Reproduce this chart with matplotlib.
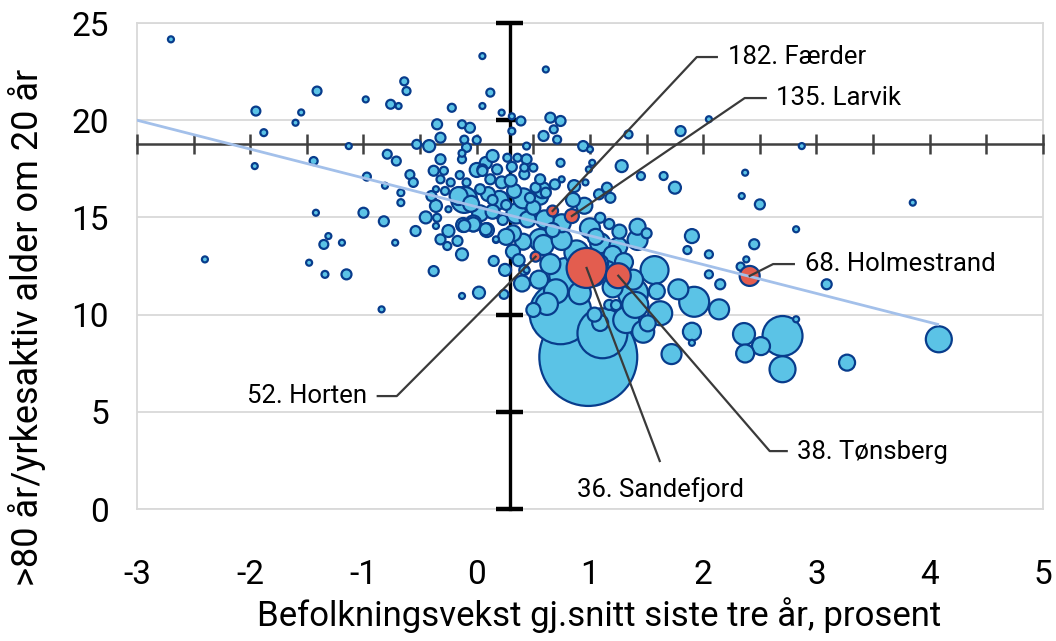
import numpy as np
import matplotlib
matplotlib.use("Agg")
import matplotlib.pyplot as plt

plt.rcParams['font.family'] = ['Roboto', 'DejaVu Sans']

# Kommuner: befolkningsvekst (x), >80 år / yrkesaktiv alder om 20 år (y), boblestørrelse
vekst = [
    -2.70, 0.05, -1.95, -1.41, -1.55, -1.60, -1.88, -1.96, -0.98, -0.64,
    -0.62, -0.76, -0.69, -1.13, -1.44, -0.97, -0.81, -0.79, -0.71, -0.59,
    -0.56, -0.67, -0.67, -0.53, -0.42, -0.35, -0.32, -0.22, -0.13, -0.06,
    -0.11, -0.09, -0.13, -0.32, -0.38, -0.29, -0.32, -0.23, -0.36, -0.28,
    -0.16, -0.09, 0.03, -0.36, -0.25, 0.05, 0.14, 0.08, 0.27, 0.31,
    0.22, 0.33, 0.12, 0.12, 0.05, 0.22, 0.31, 0.39, 0.31, 0.44,
    0.36, -2.40, -1.42, -1.48, -1.31, -1.35, -1.19, -1.34, -1.15, -1.00,
    -0.82, -0.72, -0.54, -0.84, -0.38, -0.32, -0.17, -0.13, -0.26, -0.35,
    -0.36, 0.02, -0.13, 0.15, -0.03, 0.08, -0.11, 0.24, 0.17, 0.61,
    0.65, 0.68, 0.59, 0.71, 0.74, 0.44, 0.42, 0.56, 0.69, 0.61,
    0.94, 1.02, 1.28, 1.34, 1.80, 1.45, 1.65, 1.75, 0.74, 1.00,
    2.05, 0.99, 1.15, 1.18, 1.08, 0.96, 0.86, 0.75, 1.09, 1.17,
    1.26, 1.42, 1.50, 1.00, -0.03, -0.12, 0.09, -0.11, 0.03, 0.14,
    0.26, 0.17, 0.32, 0.32, 0.56, 0.44, 0.41, 0.56, 0.67, 0.23,
    0.05, 0.18, 0.42, 0.50, 0.52, 0.47, -0.15, -0.13, 0.00, 0.00,
    0.14, 0.35, 0.26, 0.41, 0.59, 0.75, 1.09, 1.20, 0.79, 0.91,
    1.09, 1.32, 1.51, 1.40, 0.50, 0.42, 1.23, 1.17, 1.04, 0.62,
    0.74, 1.11, 0.985, 1.57, 1.38, 1.78, 1.92, 1.62, 1.47, 2.14,
    1.90, 1.72, 1.90, 2.36, 2.37, 2.51, 1.59, 1.90, 1.86, 2.05,
    2.05, 2.15, 2.45, 2.38, 2.33, 1.42, 2.70, 2.70, 2.82, 2.50,
    2.82, 2.87, 2.37, 2.34, 3.85, 3.09, 4.08, 3.27, 1.38, 1.09,
    0.45, 0.60, 0.75, 0.50, 0.85, 0.30, 0.65, 0.40, 0.55, 0.88,
    1.25, 1.30, 1.05, -0.05, 0.20, 0.10, -0.25, -0.45, -0.40, 0.37,
    0.70, 1.20, 1.05, 0.25, 0.95, 0.58, 1.15,
]
andel = [
    24.16, 23.30, 20.47, 21.50, 20.40, 19.87, 19.36, 17.64, 21.07, 22.00,
    21.50, 20.82, 20.73, 18.67, 17.90, 17.10, 16.63, 18.25, 17.90, 17.20,
    16.80, 16.27, 15.76, 18.76, 18.67, 19.79, 19.10, 20.64, 19.79, 19.61,
    19.00, 18.60, 17.99, 17.99, 17.40, 17.40, 16.96, 16.80, 16.45, 16.36,
    16.10, 16.80, 16.45, 15.59, 15.42, 17.39, 18.16, 17.80, 18.07, 17.60,
    16.80, 16.36, 16.96, 21.42, 20.73, 20.39, 20.20, 19.96, 19.44, 18.67,
    18.07, 12.84, 15.24, 12.67, 14.04, 13.61, 13.70, 12.07, 12.07, 15.24,
    14.80, 13.70, 14.30, 10.27, 12.24, 13.87, 13.79, 13.10, 13.53, 14.98,
    14.56, 11.13, 10.96, 12.76, 14.64, 14.39, 14.56, 11.04, 13.87, 22.61,
    20.13, 19.53, 19.19, 19.00, 19.96, 17.99, 17.56, 16.96, 16.70, 16.27,
    18.67, 17.81, 17.64, 19.27, 19.44, 17.13, 17.13, 16.53, 17.81, 18.50,
    20.05, 17.47, 16.53, 16.01, 16.19, 16.80, 16.61, 16.96, 14.98, 14.66,
    14.27, 14.52, 14.18, 14.44, 14.69, 14.61, 14.35, 15.90, 15.21, 15.29,
    15.64, 13.84, 14.18, 13.24, 13.84, 12.29, 15.98, 16.07, 14.35, 14.87,
    17.47, 17.47, 17.22, 17.56, 16.53, 16.01, 17.18, 18.30, 17.44, 18.98,
    15.90, 15.20, 14.00, 13.75, 13.58, 13.84, 13.67, 13.07, 12.04, 11.10,
    9.57, 9.72, 9.55, 10.50, 10.24, 12.29, 10.49, 10.50, 10.00, 10.55,
    10.07, 9.04, 7.82, 12.29, 11.10, 11.30, 10.66, 10.07, 9.12, 10.27,
    9.12, 7.97, 8.55, 9.00, 8.00, 8.38, 11.20, 14.04, 13.32, 13.10,
    12.07, 11.56, 13.62, 12.84, 12.47, 13.84, 8.90, 7.19, 9.76, 15.67,
    14.39, 18.67, 17.30, 16.10, 15.76, 11.56, 8.73, 7.53, 11.80, 12.65,
    14.90, 14.90, 14.70, 15.50, 15.90, 16.90, 12.60, 11.60, 11.80, 13.20,
    13.50, 12.70, 14.00, 15.70, 15.90, 16.20, 14.30, 15.00, 16.10, 12.80,
    11.20, 11.40, 11.90, 12.30, 15.60, 16.40, 12.30,
]
storrelse = [
    9, 9, 20, 20, 9, 9, 12, 9, 9, 16,
    16, 20, 9, 9, 16, 16, 9, 20, 20, 20,
    20, 12, 12, 20, 36, 25, 25, 16, 16, 25,
    16, 20, 16, 25, 25, 16, 16, 16, 9, 16,
    81, 16, 25, 36, 9, 25, 36, 36, 16, 25,
    36, 49, 25, 16, 9, 9, 9, 20, 12, 12,
    16, 9, 9, 9, 9, 20, 9, 12, 25, 25,
    25, 9, 25, 9, 25, 25, 25, 36, 16, 16,
    9, 36, 9, 25, 49, 36, 36, 20, 9, 9,
    25, 16, 25, 16, 25, 25, 16, 25, 25, 25,
    25, 9, 36, 16, 25, 16, 16, 36, 16, 9,
    9, 9, 25, 25, 25, 9, 36, 9, 25, 25,
    49, 64, 25, 100, 64, 49, 49, 169, 64, 49,
    25, 9, 64, 49, 121, 9, 100, 64, 49, 25,
    25, 25, 25, 16, 25, 25, 16, 12, 49, 16,
    25, 100, 64, 64, 100, 100, 100, 81, 289, 121,
    64, 169, 64, 169, 49, 25, 25, 25, 49, 121,
    961, 625, 2400, 196, 225, 100, 225, 144, 121, 100,
    81, 100, 9, 121, 81, 81, 64, 49, 16, 16,
    16, 25, 25, 9, 16, 100, 400, 169, 9, 25,
    9, 9, 9, 9, 9, 25, 169, 64, 100, 64,
    64, 81, 81, 49, 49, 36, 100, 64, 81, 144,
    81, 81, 64, 64, 81, 49, 36, 36, 25, 36,
    144, 100, 64, 36, 64, 64, 81,
]

# Uthevede kommuner i Vestfold
navn = ["182. Færder", "135. Larvik", "52. Horten", "36. Sandefjord", "38. Tønsberg", "68. Holmestrand"]
vekst_utvalg = [0.67, 0.84, 0.52, 0.97, 1.25, 2.41]
andel_utvalg = [15.33, 15.07, 12.98, 12.40, 12.00, 11.99]
storrelse_utvalg = [30, 49, 25, 400, 156, 100]

# Lineær trend
trend_x = [-3.0, 4.07]
trend_y = [20.0, 9.5]

# Kryssende akser (gjennomsnitt)
snitt_x = 0.29
snitt_y = 18.77

fig = plt.figure(figsize=(10.56, 6.41), dpi=100)
ax = fig.add_axes([0.1297, 0.2059, 0.858, 0.7582])

ax.set_xlim(-3, 5)
ax.set_ylim(0, 25)

# gridlines and frame
ax.set_yticks([0, 5, 10, 15, 20, 25])
ax.set_xticks([-3, -2, -1, 0, 1, 2, 3, 4, 5])
ax.set_axisbelow(True)
ax.grid(axis='y', color='#d9d9d9', linewidth=1.3)
for sp in ax.spines.values():
    sp.set_color('#d9d9d9')
    sp.set_linewidth(1.3)
    sp.set_zorder(0.4)
ax.tick_params(length=0, labelsize=24, colors='black')
ax.tick_params(axis='x', pad=36)
ax.tick_params(axis='y', pad=20)
ax.set_xticklabels(['-3', '-2', '-1', '0', '1', '2', '3', '4', '5'])

# cross axes behind the bubbles, above the grid
ax.plot([snitt_x, snitt_x], [0, 25], color='black', linewidth=2.4, zorder=1.6, clip_on=False)
for yt in [0, 5, 10, 15, 20, 25]:
    ax.plot([snitt_x - 0.12, snitt_x + 0.12], [yt, yt], color='black', linewidth=3.2,
            zorder=1.6, clip_on=False, solid_capstyle='butt')
ax.plot([-3, 5], [snitt_y, snitt_y], color='#404040', linewidth=1.8, zorder=1.6, clip_on=False)
for xt in np.arange(-3, 5.01, 0.5):
    ax.plot([xt, xt], [snitt_y - 0.52, snitt_y + 0.52], color='#404040', linewidth=1.8,
            zorder=1.6, clip_on=False, solid_capstyle='butt')

# bubbles, largest drawn first
skala = 2.07
rekkefolge = np.argsort(storrelse)[::-1]
ax.scatter(np.array(vekst)[rekkefolge], np.array(andel)[rekkefolge],
           s=np.array(storrelse)[rekkefolge] * skala,
           color='#5bc3e6', edgecolors='#083c8c', linewidths=1.6, zorder=2)
ax.scatter(vekst_utvalg, andel_utvalg, s=np.array(storrelse_utvalg) * skala,
           color='#e35d4f', edgecolors='#083c8c', linewidths=1.6, zorder=3)

# trend line
ax.plot(trend_x, trend_y, color='#a3c0ea', linewidth=2.0, zorder=4)

# labels with leader lines
linje = dict(color='#3a3a3a', linewidth=1.6, zorder=5, clip_on=False)
tekst = dict(fontsize=18.5, va='center', zorder=6)
ax.plot([vekst_utvalg[0], 1.943, 2.12], [andel_utvalg[0], 23.25, 23.25], **linje)
ax.text(2.216, 23.25, navn[0], ha='left', **tekst)
ax.plot([vekst_utvalg[1], 2.366, 2.552], [andel_utvalg[1], 21.14, 21.14], **linje)
ax.text(2.64, 21.14, navn[1], ha='left', **tekst)
ax.plot([vekst_utvalg[2], -0.706, -0.874], [andel_utvalg[2], 5.81, 5.81], **linje)
ax.text(-0.97, 5.81, navn[2], ha='right', **tekst)
ax.plot([vekst_utvalg[3], 1.616], [andel_utvalg[3], 2.47], **linje)
ax.text(1.625, 0.98, navn[3], ha='center', **tekst)
ax.plot([vekst_utvalg[4], 2.587, 2.737], [andel_utvalg[4], 2.98, 2.98], **linje)
ax.text(2.826, 2.95, navn[4], ha='left', **tekst)
ax.plot([vekst_utvalg[5], 2.617, 2.80], [andel_utvalg[5], 12.6, 12.6], **linje)
ax.text(2.898, 12.6, navn[5], ha='left', **tekst)

# axis titles
fig.text(0.567, 0.040, 'Befolkningsvekst gj.snitt siste tre år, prosent', fontsize=25,
         ha='center', va='center')
fig.text(0.026, 0.49, '>80 år/yrkesaktiv alder om 20 år', fontsize=26, rotation=90,
         ha='center', va='center')

fig.savefig('out.png', dpi=100)
